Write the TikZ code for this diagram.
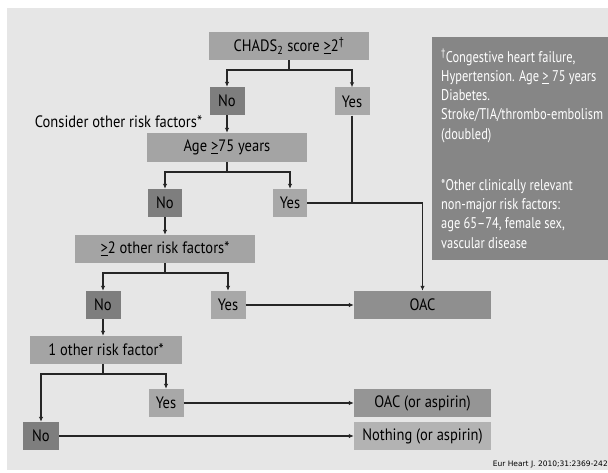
\documentclass[tikz,border=0pt]{standalone}
\usepackage{fontspec}
\setmainfont{PT Sans}[FakeStretch=0.88]
\newfontfamily\notefont{PT Sans}[FakeStretch=0.80,Ligatures=TeX]
\newfontfamily\citefont{DejaVu Sans}
\usetikzlibrary{arrows.meta}

\definecolor{panelgray}{HTML}{E6E6E6}
\definecolor{boxgray}{HTML}{A4A4A4}
\definecolor{nogray}{HTML}{7E7E7E}
\definecolor{yesgray}{HTML}{A8A8A8}
\definecolor{oacgray}{HTML}{8F8F8F}
\definecolor{aspgray}{HTML}{959595}
\definecolor{nothgray}{HTML}{B3B3B3}
\definecolor{notegray}{HTML}{868686}

\tikzset{
    flowfont/.style={font=\fontsize{16.5}{19}\selectfont},
    flowbox/.style={shape=rectangle,fill=boxgray,text=black,inner sep=0pt,minimum height=28pt,flowfont},
    nobox/.style={flowbox,fill=nogray,minimum width=35pt},
    yesbox/.style={flowbox,fill=yesgray,minimum width=35pt},
    outcome/.style={flowbox,minimum width=137pt},
    notetext/.style={font=\notefont\fontsize{15.5}{19.3}\selectfont,text=white,align=left,inner sep=0pt,anchor=north west},
    link/.style={line width=1.3pt,draw=black!85},
    >={Latex[length=5pt,width=4.5pt]}
}

\begin{document}
\begin{tikzpicture}[x=1pt,y=-1pt]

        \useasboundingbox (0,0) rectangle (608,473);
        \fill[panelgray] (7,8) rectangle (608,470);
        \fill[notegray] (432,37) rectangle (612,260);

        \node[flowbox,minimum width=160pt] (chads) at (289, 46) {CHADS\textsubscript{2} score \underline{>}2\textsuperscript{†}};
        \node[nobox] (noA) at (227, 101) {No};
        \node[yesbox] (yesA) at (352, 101.5) {Yes};
        \node[flowfont,inner sep=0pt] (consider) at (118.5, 122) {Consider other risk factors*};
        \node[flowbox,minimum width=160pt,minimum height=29pt] (age) at (227, 147.5) {Age \underline{>}75 years};
        \node[nobox,minimum width=34pt] (noB) at (165, 203) {No};
        \node[yesbox,minimum width=34pt] (yesB) at (290, 203) {Yes};
        \node[flowbox,minimum width=180pt] (two) at (165, 249) {\underline{>}2 other risk factors*};
        \node[nobox] (noC) at (103, 305) {No};
        \node[yesbox] (yesC) at (228, 305) {Yes};
        \node[outcome,fill=oacgray] (oac) at (422.5, 305) {OAC};
        \node[flowbox,minimum width=152pt] (one) at (106, 350) {1 other risk factor*};
        \node[yesbox] (yesD) at (166, 403) {Yes};
        \node[nobox,minimum width=36pt] (noD) at (41, 436) {No};
        \node[outcome,fill=aspgray] (oacasp) at (422.5, 403) {OAC (or aspirin)};
        \node[outcome,fill=nothgray] (nothing) at (422.5, 436) {Nothing (or aspirin)};

        % footnotes in the dark box
        \node[notetext] (noteA) at (441, 49)
            {\textsuperscript{†}Congestive heart failure,\\Hypertension. Age \underline{>} 75 years\\Diabetes.\\Stroke/TIA/thrombo-embolism\\(doubled)};
        \node[notetext] (noteB) at (441, 179)
            {*Other clinically relevant\\non-major risk factors:\\age 65–74, female sex,\\vascular disease};
        \node[font=\citefont\fontsize{7.5}{8}\selectfont,inner sep=0pt,anchor=base east] (cite) at (608, 466) {Eur Heart J. 2010;31:2369-242};

        \coordinate (chadsj) at (289, 70);
        \coordinate (agej) at (227, 172);
        \coordinate (twoj) at (165, 273);
        \coordinate (onej) at (103, 374);
        \coordinate (oacj) at (422.5, 203);

        \draw[link] (chads) -- (chadsj);
        \draw[link,->] (chadsj) -| (noA);
        \draw[link,->] (chadsj) -| (yesA);
        \draw[link,->] (noA) -- (age);
        \draw[link] (age) -- (agej);
        \draw[link,->] (agej) -| (noB);
        \draw[link,->] (agej) -| (yesB);
        \draw[link] (yesA) -- (yesA |- oacj);
        \draw[link,->] (yesB) -- (oacj) -- (oac);
        \draw[link,->] (noB) -- (two);
        \draw[link] (two) -- (twoj);
        \draw[link,->] (twoj) -| (noC);
        \draw[link,->] (twoj) -| (yesC);
        \draw[link,->] (yesC) -- (oac);
        \draw[link,->] (noC) -- (noC |- one.north);
        \draw[link] (one.south -| noC) -- (onej);
        \draw[link,->] (onej) -| (yesD);
        \draw[link,->] (onej) -| (noD);
        \draw[link,->] (yesD) -- (oacasp);
        \draw[link,->] (noD) -- (nothing);

    \end{tikzpicture}
\end{document}
